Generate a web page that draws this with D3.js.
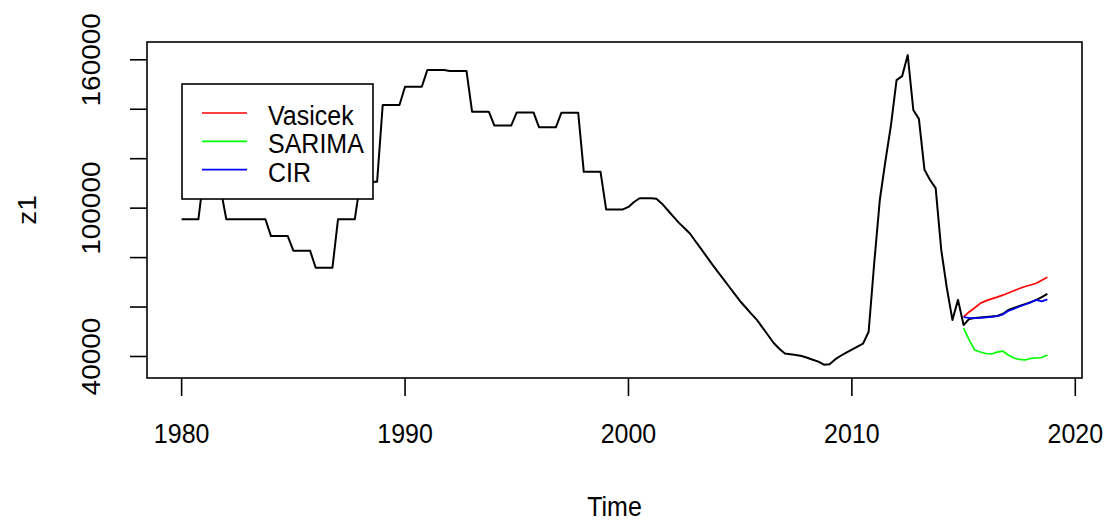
<!DOCTYPE html>
<html>
<head>
<meta charset="utf-8">
<script src="https://cdn.jsdelivr.net/npm/d3@7"></script>
<style>
	body { margin: 0; background: #fff; }
	svg text { font-family: "Liberation Sans", Arial, sans-serif; font-size: 25px; fill: #000; }
</style>
</head>
<body>
<svg id="chart" width="1113" height="522"></svg>
<script>
// quarterly series z1, 1980 Q1 .. 2018 Q4
var startYear = 1980;
var freq = 4;
var z1 = [
	95500, 95500, 95500, 95500,
	114000, 112000, 110000, 107600,
	95500, 95500, 95500, 95500,
	95500, 95500, 95500, 95500,
	88700, 88700, 88700, 88700,
	82800, 82800, 82800, 82800,
	75900, 75900, 75900, 75900,
	95500, 95500, 95500, 95500,
	110700, 110700, 110700, 110700,
	141700, 141700, 141700, 141700,
	149100, 149100, 149100, 149100,
	155900, 155900, 155900, 155900,
	155500, 155500, 155500, 155500,
	139000, 139000, 139000, 139000,
	133400, 133400, 133400, 133400,
	138700, 138700, 138700, 138700,
	132700, 132700, 132700, 132700,
	138600, 138600, 138600, 138600,
	114700, 114700, 114700, 114700,
	99500, 99500, 99500, 99500,
	100500, 102500, 104000, 104000,
	104000, 103800, 101800, 99250,
	96700, 94150, 92000, 89750,
	86600, 83500, 80400, 77250,
	74250, 71300, 68300, 65300,
	62350, 59800, 57250, 54800,
	51700, 48600, 45450, 43150,
	41200, 40900, 40600, 40200,
	39500, 38700, 37900, 36700,
	36900, 38800, 40300, 41600,
	42800, 44000, 45200, 50000,
	77800, 103300, 119000, 133600,
	151800, 153400, 161900, 139700,
	136100, 115500, 111400, 108100,
	83100, 67700, 54800, 62900,
	52700, 55200, 55600, 55800,
	56000, 56200, 56400, 57200,
	58800, 59600, 60400, 61200,
	62000, 62850, 64050, 65300
];

// forecasts, 2015 Q1 .. 2018 Q4
var fcStart = 2015;
var vasicek = [56000, 58000, 59700, 61500, 62500, 63300, 64000, 64800, 65700, 66600, 67500, 68300, 68900, 69600, 70800, 72000];
var sarima = [51500, 46700, 42600, 41800, 41200, 41000, 41800, 42200, 40600, 39400, 38800, 38600, 39200, 39400, 39600, 40600];
var cir = [55900, 55600, 55500, 55600, 55800, 56000, 56300, 57000, 58400, 59200, 60200, 61000, 61800, 62900, 62300, 63100];

var xTicks = [1980, 1990, 2000, 2010, 2020];
var yTicks = [40000, 60000, 80000, 100000, 120000, 140000, 160000];
var yTickLabels = [40000, 100000, 160000];
var legendNames = ["Vasicek", "SARIMA", "CIR"];
var legendColors = ["#ff0000", "#00ff00", "#0000ff"];

var svg = d3.select("#chart");
var box = { left: 147, top: 42, right: 1082, bottom: 378 };
var sy = "scale(1,1.12)";

var xScale = d3.scaleLinear().domain([1978.45, 2020.3]).range([box.left, box.right]);
var yScale = d3.scaleLinear().domain([31300, 167200]).range([box.bottom, box.top]);

function series(vals, start) {
	return vals.map(function (v, i) { return { t: start + i / freq, v: v }; });
}

var line = d3.line()
	.x(function (d) { return xScale(d.t); })
	.y(function (d) { return yScale(d.v); });

svg.append("path")
	.datum(series(z1, startYear))
	.attr("d", line)
	.attr("fill", "none")
	.attr("stroke", "#000")
	.attr("stroke-width", 2)
	.attr("stroke-linejoin", "round");

[vasicek, sarima, cir].forEach(function (s, k) {
	svg.append("path")
		.datum(series(s, fcStart))
		.attr("d", line)
		.attr("fill", "none")
		.attr("stroke", legendColors[k])
		.attr("stroke-width", 1.7)
		.attr("stroke-linejoin", "round");
});

// frame
svg.append("rect")
	.attr("x", box.left).attr("y", box.top)
	.attr("width", box.right - box.left).attr("height", box.bottom - box.top)
	.attr("fill", "none").attr("stroke", "#000").attr("stroke-width", 1.6);

// x axis
var gx = svg.append("g");
gx.selectAll("line").data(xTicks).enter().append("line")
	.attr("x1", function (d) { return xScale(d); }).attr("x2", function (d) { return xScale(d); })
	.attr("y1", box.bottom).attr("y2", box.bottom + 18)
	.attr("stroke", "#000").attr("stroke-width", 1.6);
gx.selectAll("text").data(xTicks).enter().append("text")
	.attr("transform", function (d) { return "translate(" + xScale(d) + ",443) " + sy; })
	.attr("text-anchor", "middle")
	.text(function (d) { return d; });

// y axis
var gy = svg.append("g");
gy.selectAll("line").data(yTicks).enter().append("line")
	.attr("x1", box.left).attr("x2", box.left - 17)
	.attr("y1", function (d) { return yScale(d); }).attr("y2", function (d) { return yScale(d); })
	.attr("stroke", "#000").attr("stroke-width", 1.6);
gy.selectAll("text").data(yTickLabels).enter().append("text")
	.attr("transform", function (d) { return "translate(100," + yScale(d) + ") " + sy + " rotate(-90)"; })
	.attr("text-anchor", "middle")
	.text(function (d) { return d; });

svg.append("text")
	.attr("transform", "translate(" + (box.left + box.right) / 2 + ",516) " + sy)
	.attr("text-anchor", "middle")
	.text("Time");

svg.append("text")
	.attr("transform", "translate(36," + (box.top + box.bottom) / 2 + ") " + sy + " rotate(-90)")
	.attr("text-anchor", "middle")
	.text("z1");

// legend
var lg = svg.append("g");
lg.append("rect")
	.attr("x", 182).attr("y", 84).attr("width", 191).attr("height", 115)
	.attr("fill", "#fff").attr("stroke", "#000").attr("stroke-width", 1.6);
legendNames.forEach(function (name, i) {
	var base = 125 + i * 28.3;
	lg.append("line")
		.attr("x1", 202).attr("x2", 247)
		.attr("y1", base - 12).attr("y2", base - 12)
		.attr("stroke", legendColors[i]).attr("stroke-width", 1.7);
	lg.append("text")
		.attr("transform", "translate(268," + base + ") " + sy)
		.text(name);
});
</script>
</body>
</html>
